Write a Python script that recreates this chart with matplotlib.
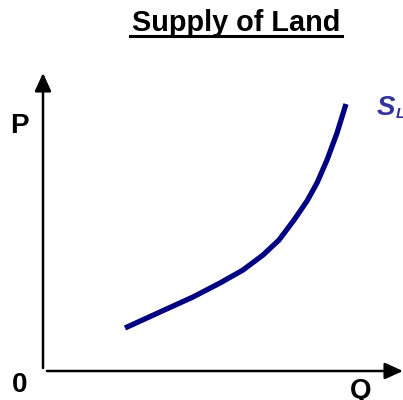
import matplotlib.pyplot as plt

# supply curve (pixel coordinates, y downward)
supply_x = [125, 160, 193, 220, 243, 263, 279, 294, 307, 317, 327, 337, 346]
supply_y = [328, 312, 297, 283, 270, 255, 240, 220, 201, 183, 160, 133, 104]

title = "Supply of Land"
y_label = "P"
x_label = "Q"
origin_label = "0"
curve_label = "S"
curve_sub = "L"

fig = plt.figure(figsize=(4.03, 4.0), dpi=100)
ax = fig.add_axes([0, 0, 1, 1])
ax.set_xlim(0, 403)
ax.set_ylim(400, 0)
ax.axis('off')

# axes with arrows
ax.annotate('', xy=(43, 73), xytext=(43, 368),
            arrowprops=dict(arrowstyle='-|>,head_length=1.1,head_width=0.5', lw=1.8,
                            color='black', shrinkA=0, shrinkB=0))
ax.annotate('', xy=(403, 371), xytext=(47, 371),
            arrowprops=dict(arrowstyle='-|>,head_length=1.1,head_width=0.5', lw=1.8,
                            color='black', shrinkA=0, shrinkB=0))

ax.plot(supply_x, supply_y, color='#000080', lw=3.8, solid_capstyle='butt',
        solid_joinstyle='round')

font = 'Liberation Sans'
ax.text(236, 31, title, ha='center', va='baseline', fontsize=20.8,
        fontweight='bold', family=font)
ax.plot([130, 342], [36, 36], color='black', lw=2.2)
ax.text(19, 133, y_label, ha='center', va='baseline', fontsize=20,
        fontweight='bold', family=font)
ax.text(20, 392, origin_label, ha='center', va='baseline', fontsize=20,
        fontweight='bold', family=font)
ax.text(361, 398, x_label, ha='center', va='baseline', fontsize=20,
        fontweight='bold', family=font)
ax.text(377, 115, curve_label, ha='left', va='baseline', fontsize=20,
        fontweight='bold', fontstyle='italic', color='#333399', family=font)
ax.text(396, 118, curve_sub, ha='left', va='baseline', fontsize=11,
        fontweight='bold', fontstyle='italic', color='#333399', family=font)

plt.savefig('out.png', dpi=100)
